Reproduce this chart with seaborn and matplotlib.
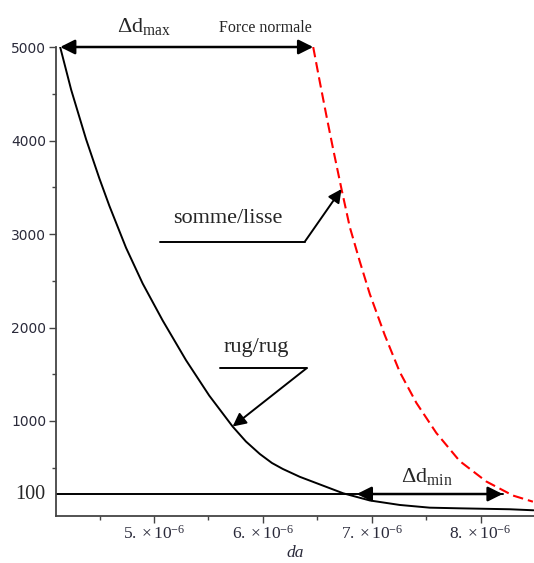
import matplotlib
matplotlib.use("Agg")
import matplotlib.pyplot as plt
import seaborn as sns
import pandas as pd
import numpy as np

sns.set_style("ticks")
plt.rcParams['font.family'] = ['Liberation Serif', 'DejaVu Sans']
plt.rcParams['mathtext.fontset'] = 'custom'
plt.rcParams['mathtext.rm'] = 'Liberation Serif'
plt.rcParams['mathtext.it'] = 'Liberation Serif:italic'

# Readings from the picture (da in micrometres, force in N)
RUG_DA = [4.138, 4.239, 4.376, 4.498, 4.590, 4.743, 4.896, 5.080, 5.294, 5.507,
          5.722, 5.844, 5.972, 6.083, 6.183, 6.339, 6.737, 6.982, 7.257, 7.532,
          7.807, 8.266, 8.486]
RUG_F = [5000, 4543, 4014, 3595, 3301, 2853, 2470, 2074, 1650, 1272,
         941, 781, 647, 551, 487, 403, 227, 150, 102, 73,
         66, 56, 45]
LISSE_DA = [6.462, 6.523, 6.584, 6.645, 6.722, 6.798, 6.890, 6.982, 7.119, 7.257,
            7.410, 7.593, 7.807, 8.052, 8.296, 8.480]
LISSE_F = [5000, 4626, 4262, 3909, 3481, 3075, 2706, 2358, 1920, 1524,
           1193, 872, 572, 353, 203, 137]

X_TICKS = [5e-6, 6e-6, 7e-6, 8e-6]
X_TICK_LABELS = [r"$5.\times10^{-6}$", r"$6.\times10^{-6}$",
                 r"$7.\times10^{-6}$", r"$8.\times10^{-6}$"]
X_MINOR = [4.5e-6, 5.5e-6, 6.5e-6, 7.5e-6]
Y_TICKS = [1000, 2000, 3000, 4000, 5000]
Y_TICK_LABELS = ["1000", "2000", "3000", "4000", "5000"]
Y_MINOR = [500, 1500, 2500, 3500, 4500]

F_MAX = 5000
DMIN_LEVEL = 219        # where the horizontal "100" line sits on the force axis
DMIN_RIGHT = 8.202e-6   # right end of the delta d min arrow

rug = pd.DataFrame({'da': np.array(RUG_DA) * 1e-6, 'F': RUG_F})
lisse = pd.DataFrame({'da': np.array(LISSE_DA) * 1e-6, 'F': LISSE_F})

fig = plt.figure(figsize=(5.34, 5.63), dpi=100)
ax = fig.add_axes([0.1049, 0.0835, 0.8951, 0.8330])

sns.lineplot(data=rug, x='da', y='F', color='black', linewidth=1.4, ax=ax)
sns.lineplot(data=lisse, x='da', y='F', color='#ff0000', linewidth=1.5,
             dashes=False, ax=ax)
ax.lines[-1].set_dashes((5, 2.4))

ax.set_xlim(4.10e-6, 8.49e-6)
ax.set_ylim(-16, F_MAX)

ax.set_xticks(X_TICKS)
ax.set_xticklabels(X_TICK_LABELS, fontsize=12.5, color='#2a2a3a')
ax.set_xticks(X_MINOR, minor=True)
ax.set_yticks(Y_TICKS)
ax.set_yticklabels(Y_TICK_LABELS, fontsize=10, color='#2a2a3a', family='DejaVu Sans')
ax.set_yticks(Y_MINOR, minor=True)
ax.tick_params(which='major', length=5, width=1, color='#444444', pad=2)
ax.tick_params(axis='x', which='major', pad=1)
ax.tick_params(which='minor', length=3, width=1, color='#444444')

for side in ['top', 'right']:
    ax.spines[side].set_visible(False)
for side in ['left', 'bottom']:
    ax.spines[side].set_color('#444444')
    ax.spines[side].set_linewidth(1.3)

ax.set_xlabel('da', fontsize=12.5, fontstyle='italic', color='#2a2a3a', labelpad=2)
ax.set_ylabel('')

dbl = dict(arrowstyle='<|-|>', color='black', lw=1.8, mutation_scale=22,
           shrinkA=0, shrinkB=0)
one = dict(arrowstyle='-|>', color='black', lw=1.4, mutation_scale=20,
           shrinkA=0, shrinkB=0)

# delta d max between the two curves at the top
ax.annotate('', xy=(rug.da.iloc[0], F_MAX), xytext=(lisse.da.iloc[0], F_MAX),
            arrowprops=dbl, annotation_clip=False)
ax.text(4.908e-6, 5164, r'$\Delta\mathrm{d}_{\mathrm{max}}$', fontsize=16,
        ha='center', va='baseline', clip_on=False)
ax.text(6.023e-6, 5164, 'Force normale', fontsize=11.5, ha='center',
        va='baseline', clip_on=False)

# delta d min near the bottom
ax.plot([4.10e-6, DMIN_RIGHT], [DMIN_LEVEL, DMIN_LEVEL], color='black', lw=1.4)
ax.annotate('', xy=(6.862e-6, DMIN_LEVEL), xytext=(DMIN_RIGHT, DMIN_LEVEL),
            arrowprops=dbl)
ax.text(7.505e-6, 347, r'$\Delta\mathrm{d}_{\mathrm{min}}$', fontsize=16,
        ha='center', va='baseline')
ax.text(-0.023, DMIN_LEVEL, '100', transform=ax.get_yaxis_transform(),
        fontsize=14.5, ha='right', va='center')

# callout for the smooth/sum curve
ax.text(5.674e-6, 3118, 'somme/lisse', fontsize=16, ha='center', va='baseline')
ax.plot([5.055e-6, 6.385e-6], [2918, 2918], color='black', lw=1.4)
ax.annotate('', xy=(lisse.da.iloc[4], lisse.F.iloc[4]), xytext=(6.385e-6, 2918),
            arrowprops=one)

# callout for the rough/rough curve
ax.text(5.936e-6, 1741, 'rug/rug', fontsize=16, ha='center', va='baseline')
ax.plot([5.606e-6, 6.401e-6], [1564, 1564], color='black', lw=1.4)
ax.annotate('', xy=(rug.da.iloc[10], rug.F.iloc[10]), xytext=(6.401e-6, 1564),
            arrowprops=one)

fig.savefig('out.png', dpi=100)
